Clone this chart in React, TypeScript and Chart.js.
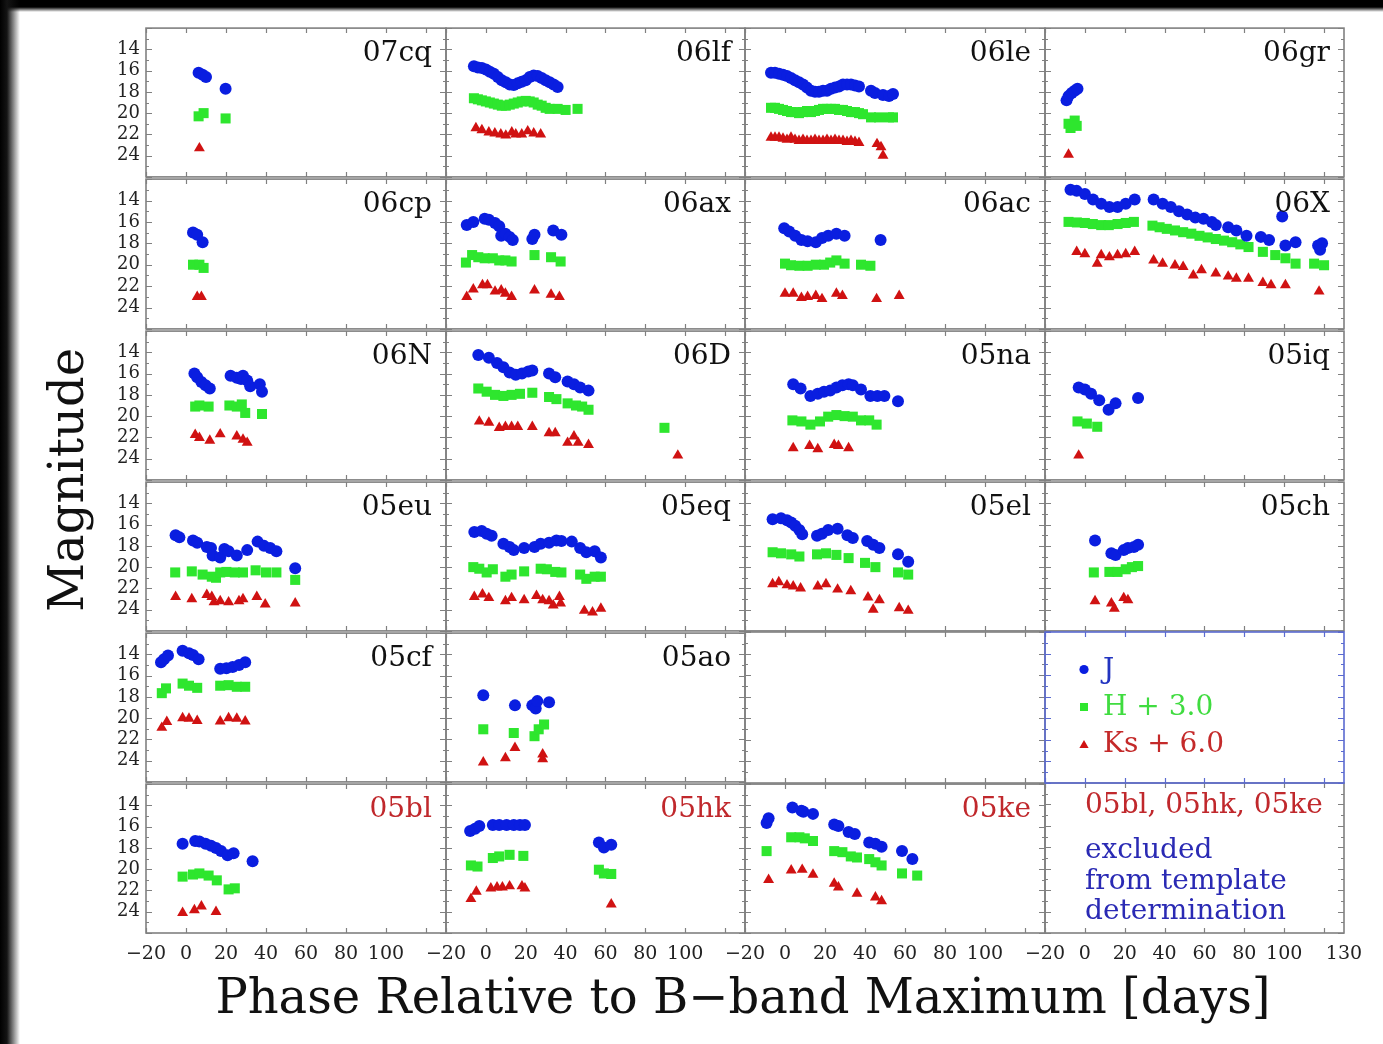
import React, { useEffect, useRef } from 'react';
import { Chart, registerables } from 'chart.js';

Chart.register(...registerables);

type Pt = [number, number];

// ---- data: [phase (days), magnitude] ----
const j07cq: Pt[] = [[6.3,16.2],[8.3,16.4],[10,16.6],[19.8,17.7]];
const h07cq: Pt[] = [[6.3,20.3],[8.8,20.0],[19.8,20.5]];
const k07cq: Pt[] = [[6.7,23.3]];

const j06lf: Pt[] = [[-6,15.6],[-4,15.7],[-2,15.75],[0,15.9],[2,16.1],[4,16.3],[6,16.6],[8,16.9],[10,17.1],[12,17.3],[14,17.35],[16,17.2],[18,17.05],[20,16.9],[22,16.6],[24,16.45],[26,16.5],[28,16.7],[30,16.9],[32,17.1],[34,17.3],[36,17.55]];
const h06lf: Pt[] = [[-6,18.6],[-4,18.7],[-2,18.8],[0,18.9],[2,19.0],[4,19.1],[6,19.2],[8,19.3],[10,19.3],[12,19.2],[14,19.1],[16,19.0],[18,18.9],[20,18.85],[22,18.9],[24,19.0],[26,19.2],[28,19.3],[30,19.5],[32,19.6],[36,19.6],[40,19.7],[46,19.6]];
const k06lf: Pt[] = [[-5,21.4],[-2,21.6],[1.5,21.8],[4.5,21.9],[7.5,22.0],[10,22.1],[13,21.8],[15,22.0],[18,22.0],[21,21.7],[24,21.9],[27.5,22.0]];

const j06le: Pt[] = [[-7,16.2],[-5,16.2],[-3,16.3],[-1,16.4],[1,16.5],[3,16.7],[5,16.9],[7,17.1],[9,17.3],[11,17.6],[13,17.9],[15,18.0],[17,18.0],[19,17.9],[21,17.9],[23,17.7],[25,17.6],[27,17.5],[29,17.3],[31,17.3],[33,17.3],[35,17.4],[37,17.5],[43,17.9],[45,18.1],[49,18.3],[52,18.4],[54,18.2]];
const h06le: Pt[] = [[-7,19.5],[-5,19.5],[-3,19.6],[-1,19.7],[1,19.8],[3,19.9],[5,19.9],[7,20.0],[9,19.9],[11,19.8],[13,19.9],[15,19.8],[17,19.7],[19,19.6],[21,19.6],[23,19.6],[25,19.6],[27,19.7],[29,19.7],[31,19.8],[33,19.9],[35,19.9],[37,20.0],[39,20.1],[43,20.4],[47,20.4],[52,20.4],[54,20.4]];
const k06le: Pt[] = [[-7,22.3],[-5,22.3],[-3,22.3],[-1,22.4],[1,22.5],[3,22.3],[5,22.5],[7,22.6],[9,22.5],[11,22.6],[13,22.6],[15,22.5],[17,22.6],[19,22.6],[21,22.5],[23,22.6],[25,22.5],[27,22.6],[29,22.6],[31,22.7],[33,22.6],[35,22.7],[37,22.8],[46,22.9],[48,23.2],[49,24.0]];

const j06gr: Pt[] = [[-9.2,18.8],[-8.2,18.4],[-6.6,18.1],[-5.1,17.9],[-3.7,17.7]];
const h06gr: Pt[] = [[-8.2,21.0],[-7.2,21.4],[-5.1,20.7],[-4.1,21.2]];
const k06gr: Pt[] = [[-8.2,23.9]];

const j06cp: Pt[] = [[3.5,17.0],[5.6,17.2],[8.3,17.9]];
const h06cp: Pt[] = [[3.5,20.0],[6.7,20.0],[8.8,20.3]];
const k06cp: Pt[] = [[5.6,23.0],[7.7,23.0]];

const j06ax: Pt[] = [[-9.6,16.3],[-6.3,16.0],[-0.6,15.7],[1.5,15.8],[4.6,16.1],[6.7,16.4],[7.7,17.3],[9.8,17.1],[11.9,17.4],[13.5,17.7],[23.3,17.6],[24.4,17.2],[33.8,16.8],[37.9,17.2]];
const h06ax: Pt[] = [[-10,19.8],[-6.9,19.1],[-3.8,19.3],[-0.6,19.4],[3.5,19.4],[6.7,19.6],[9.8,19.6],[12.9,19.7],[24.4,19.1],[32.7,19.3],[37.5,19.7]];
const k06ax: Pt[] = [[-9.6,23.0],[-6.3,22.3],[-1.7,21.9],[0.8,21.9],[4.6,22.5],[7.7,22.4],[9.8,22.7],[12.9,23.0],[24.4,22.4],[32.7,22.8],[36.9,23.0]];

const j06ac: Pt[] = [[-0.4,16.6],[2.1,16.9],[5.1,17.3],[8.2,17.7],[11.3,17.8],[15.4,17.9],[18.5,17.5],[21.6,17.3],[25.7,17.1],[29.8,17.3],[47.8,17.7]];
const h06ac: Pt[] = [[0,19.9],[3,20.05],[7.2,20.1],[11.3,20.1],[15.4,20.0],[19.5,20.0],[22.6,19.8],[25.7,19.6],[29.8,19.9],[38,20.0],[42.7,20.1]];
const k06ac: Pt[] = [[0,22.7],[4.1,22.7],[8.2,23.1],[11.3,23.0],[15.4,22.9],[18.5,23.2],[25.7,22.7],[28.7,22.9],[45.8,23.2],[57.1,22.9]];

const j06X: Pt[] = [[-7.2,13.0],[-4.1,13.1],[0,13.4],[4.1,13.9],[8.2,14.3],[12.3,14.6],[16.4,14.6],[20.5,14.3],[25,13.9],[34.5,13.9],[39,14.3],[43.1,14.6],[47.2,15.0],[51.3,15.3],[55.4,15.6],[59.5,15.7],[63.7,16.0],[65.7,16.3],[71.9,16.5],[76,16.8],[81.1,17.3],[88.3,17.4],[92.4,17.7],[99,15.5],[100.6,18.2],[105.7,17.9],[117,18.2],[119,18.0],[118,18.6]];
const h06X: Pt[] = [[-8.2,16.0],[-4,16.05],[0,16.1],[4,16.2],[8.2,16.3],[12,16.3],[16.4,16.2],[20.5,16.1],[24.6,16.0],[33.9,16.35],[37.5,16.5],[41.1,16.65],[45.2,16.8],[49.3,16.96],[53.4,17.1],[57.5,17.3],[61.6,17.45],[65.7,17.6],[69.8,17.75],[73.9,17.9],[78,18.1],[82.1,18.35],[89.3,18.8],[95.5,19.1],[100.6,19.4],[105.7,19.9],[115,19.9],[120,20.05]];
const k06X: Pt[] = [[-4.1,18.8],[0,19.0],[6.2,19.9],[8.2,19.1],[12.3,19.3],[16.4,19.1],[20.5,19.0],[25,18.8],[34.5,19.6],[39,19.9],[45.2,20.05],[49.3,20.2],[54.4,21.0],[58.5,20.5],[65.7,20.8],[71.9,21.1],[76,21.3],[82.1,21.3],[89.3,21.7],[93.4,21.9],[100.6,21.9],[117.5,22.5]];

const j06N: Pt[] = [[4.2,16.0],[5.6,16.35],[7.7,16.8],[9.8,17.1],[11.9,17.4],[22.3,16.2],[25.4,16.4],[27.5,16.5],[28.5,16.2],[30.6,16.65],[32.1,17.2],[36.9,17.0],[38,17.7]];
const h06N: Pt[] = [[4.6,19.1],[6.7,19.0],[11.3,19.1],[21.7,19.0],[25.4,19.1],[27.9,18.9],[29.6,19.7],[38,19.8]];
const k06N: Pt[] = [[4.6,21.75],[6.7,22.05],[11.9,22.3],[17.1,21.7],[25.4,21.9],[28.5,22.2],[30.6,22.5]];

const j06D: Pt[] = [[-3.8,14.25],[1.5,14.5],[5.6,15.0],[8.8,15.4],[11.9,15.9],[15,16.1],[18.1,16.0],[21.3,15.8],[23.3,15.7],[31.7,16.0],[34.8,16.35],[41,16.75],[44.2,17.0],[47.3,17.3],[51.5,17.6]];
const h06D: Pt[] = [[-3.8,17.4],[0.4,17.7],[4.6,18.0],[8.8,18.1],[12.9,18.0],[17.1,17.9],[23.3,17.8],[31.7,18.2],[35.4,18.4],[41,18.8],[45.2,19.0],[48.3,19.1],[51.5,19.4],[89.6,21.1]];
const k06D: Pt[] = [[-3.3,20.5],[1.5,20.6],[6.7,21.1],[9.8,21.0],[12.9,21.0],[16,21.0],[23.3,21.0],[31.7,21.6],[34.8,21.6],[41,22.5],[44.2,21.9],[46.3,22.5],[51.5,22.7],[96.3,23.7]];

const j05na: Pt[] = [[4.1,17.0],[7.8,17.4],[12.7,18.1],[16.4,17.9],[19.5,17.7],[22.6,17.6],[25.7,17.3],[28.7,17.1],[31.8,17.0],[33.9,17.1],[38,17.5],[42.7,18.1],[46.2,18.1],[49.7,18.1],[56.5,18.6]];
const h05na: Pt[] = [[3.7,20.4],[8.2,20.5],[12.7,20.8],[17.5,20.5],[21.6,20.05],[25.7,19.9],[29.8,20.0],[33.9,20.05],[38,20.4],[42.1,20.4],[45.8,20.8]];
const k05na: Pt[] = [[4.1,23.0],[12.3,22.8],[16.4,23.1],[24.6,22.7],[26.7,22.8],[31.8,23.0]];

const j05iq: Pt[] = [[-3.1,17.3],[0,17.5],[3.1,17.9],[7.2,18.5],[11.9,19.4],[15.4,18.8],[26.7,18.3]];
const h05iq: Pt[] = [[-3.7,20.5],[1,20.7],[6.2,21.0]];
const k05iq: Pt[] = [[-3.1,23.7]];

const j05eu: Pt[] = [[-5.2,17.0],[-3.3,17.2],[3.5,17.5],[5.6,17.7],[10.4,18.1],[12.5,18.2],[13.3,18.9],[17.1,19.1],[19.2,18.3],[21.3,18.5],[25.4,18.9],[30.6,18.4],[35.8,17.6],[39,18.0],[42.1,18.2],[45.2,18.5],[54.6,20.1]];
const h05eu: Pt[] = [[-5.4,20.5],[2.9,20.4],[8.3,20.7],[12.9,20.9],[15,21.0],[17.1,20.5],[20.2,20.45],[24.4,20.5],[28.5,20.5],[34.8,20.3],[40,20.5],[45.2,20.5],[54.6,21.2]];
const k05eu: Pt[] = [[-5.2,22.8],[2.9,23.0],[10.4,22.6],[12.9,22.8],[14,23.3],[17.1,23.2],[21.3,23.3],[26.5,23.2],[28.5,23.0],[35.4,22.8],[39.6,23.5],[54.6,23.4]];

const j05eq: Pt[] = [[-5.8,16.7],[-2.1,16.6],[0.4,16.85],[2.9,17.05],[8.8,17.8],[11.9,18.1],[14,18.4],[19.2,18.2],[24.4,18.1],[27.5,17.8],[31.7,17.7],[35.4,17.5],[37.9,17.55],[43.1,17.6],[47.3,18.2],[50.4,18.6],[54.6,18.5],[57.7,19.1]];
const h05eq: Pt[] = [[-6.3,20.0],[-3.3,20.15],[0.4,20.5],[3.5,20.2],[9.8,20.9],[12.9,20.7],[19.2,20.4],[27.5,20.15],[30.6,20.2],[34.8,20.45],[37.9,20.5],[47.3,20.7],[50.4,21.1],[54.6,20.9],[57.7,20.9]];
const k05eq: Pt[] = [[-5.8,22.8],[-1.7,22.55],[1.5,22.9],[9.8,23.2],[12.9,22.9],[19.2,23.1],[25.4,22.7],[28.5,23.1],[31.7,23.2],[33.8,23.6],[36.9,22.8],[37.5,23.4],[49.4,24.1],[53.5,24.25],[57.7,23.9]];

const j05el: Pt[] = [[-6.2,15.5],[-2,15.4],[1,15.6],[3.1,15.8],[5.1,16.1],[7.2,16.5],[8.6,16.9],[16,17.05],[18.5,16.85],[21.6,16.5],[26.3,16.4],[31.2,17.0],[33.9,17.25],[41.1,17.55],[44.1,17.9],[47.2,18.2],[56.5,18.8],[61.6,19.5]];
const h05el: Pt[] = [[-6.2,18.6],[-2,18.7],[3.1,18.8],[7.2,19.0],[16,18.8],[20.5,18.7],[25.7,18.85],[31.8,19.15],[40,19.6],[45.2,20.0],[56.5,20.5],[61.6,20.7]];
const k05el: Pt[] = [[-6.2,21.6],[-3.1,21.4],[1,21.7],[4.1,21.8],[7.8,22.0],[16.4,21.8],[20.5,21.6],[26.3,22.1],[32.9,22.25],[41.5,22.85],[44.1,24.0],[47.2,23.1],[57.1,23.85],[61.6,24.1]];

const j05ch: Pt[] = [[5.1,17.5],[13.3,18.7],[15.4,18.85],[19.5,18.4],[21.6,18.2],[24.6,18.1],[26.7,17.9]];
const h05ch: Pt[] = [[4.5,20.5],[12.3,20.45],[16.4,20.45],[20.5,20.2],[23.6,20.0],[26.7,19.9]];
const k05ch: Pt[] = [[5.1,23.2],[13.3,23.4],[14.8,23.9],[19.5,22.9],[21.6,23.1]];

const j05cf: Pt[] = [[-12.5,14.75],[-11,14.45],[-9,14.1],[-1.7,13.65],[1.5,13.9],[3.5,14.05],[6.3,14.45],[17.1,15.35],[20.2,15.3],[23.3,15.2],[26.5,15.0],[29.6,14.75]];
const h05cf: Pt[] = [[-12.1,17.65],[-10,17.2],[-1.7,16.75],[1.5,16.95],[5.6,17.15],[17.1,16.95],[21.3,16.9],[25.4,17.05],[29.6,17.05]];
const k05cf: Pt[] = [[-12.1,20.9],[-9.6,20.35],[-1.7,20.0],[1.5,20.05],[5.6,20.25],[17.1,20.3],[21.3,20.0],[25.4,20.05],[29.6,20.3]];

const j05ao: Pt[] = [[-1.3,17.85],[14.6,18.8],[23.3,18.8],[25,19.1],[25.8,18.4],[31.7,18.5]];
const h05ao: Pt[] = [[-1.3,21.05],[14,21.4],[24.4,21.7],[26.5,21.05],[29.2,20.6]];
const k05ao: Pt[] = [[-1.3,24.15],[9.8,23.75],[14.6,22.8],[28.5,23.4],[28.5,23.85]];

const j05bl: Pt[] = [[-1.7,17.6],[4.6,17.35],[6.7,17.4],[9.8,17.6],[12.5,17.8],[15,18.0],[17.5,18.3],[20.8,18.7],[23.8,18.5],[33.3,19.25]];
const h05bl: Pt[] = [[-1.7,20.7],[3.5,20.5],[6.7,20.4],[11.3,20.6],[15.4,21.05],[21.3,21.9],[24.4,21.8]];
const k05bl: Pt[] = [[-1.7,24.1],[4.2,23.85],[7.7,23.5],[15,24.0]];

const j05hk: Pt[] = [[-7.9,16.4],[-5.4,16.2],[-3.3,15.95],[3.5,15.85],[6.7,15.85],[10.4,15.85],[14,15.85],[17.1,15.85],[19.6,15.85],[56.7,17.5],[59.2,17.95],[62.9,17.7]];
const h05hk: Pt[] = [[-7.5,19.65],[-4.2,19.75],[3.5,18.95],[6.7,18.8],[11.9,18.65],[18.8,18.75],[56.7,20.05],[59.2,20.4],[62.9,20.45]];
const k05hk: Pt[] = [[-7.5,22.8],[-4.8,22.1],[2.5,21.8],[5.6,21.7],[8.3,21.7],[11.9,21.6],[18.1,21.6],[19.6,21.8],[62.9,23.3]];

const j05ke: Pt[] = [[-9.2,15.65],[-8.2,15.2],[3.7,14.2],[8.2,14.5],[9.2,14.6],[14,14.8],[24.6,15.8],[26.7,15.95],[31.8,16.5],[34.9,16.7],[42.1,17.5],[45.2,17.6],[48.3,17.9],[58.5,18.3],[63.7,19.05]];
const h05ke: Pt[] = [[-9.2,18.3],[3.1,17.0],[7.2,17.0],[9.9,17.1],[14,17.35],[24.6,18.3],[28.7,18.4],[32.9,18.8],[36,18.9],[42.1,19.05],[45.2,19.35],[48.3,19.65],[58.5,20.4],[66.1,20.6]];
const k05ke: Pt[] = [[-8.2,21.0],[3.1,20.1],[8.6,20.05],[14,20.5],[24.6,21.35],[26.7,21.7],[36,22.3],[45.2,22.65],[48.3,23.0]];

// panel order: 6 rows x 4 columns ('' = no data)
const panelNames = ['07cq','06lf','06le','06gr','06cp','06ax','06ac','06X','06N','06D','05na','05iq','05eu','05eq','05el','05ch','05cf','05ao','','','05bl','05hk','05ke',''];
const excludedNames = ['05bl','05hk','05ke'];
const panelData: Record<string, Pt[][]> = {
  '07cq': [j07cq, h07cq, k07cq], '06lf': [j06lf, h06lf, k06lf], '06le': [j06le, h06le, k06le], '06gr': [j06gr, h06gr, k06gr],
  '06cp': [j06cp, h06cp, k06cp], '06ax': [j06ax, h06ax, k06ax], '06ac': [j06ac, h06ac, k06ac], '06X': [j06X, h06X, k06X],
  '06N': [j06N, h06N, k06N], '06D': [j06D, h06D, k06D], '05na': [j05na, h05na, k05na], '05iq': [j05iq, h05iq, k05iq],
  '05eu': [j05eu, h05eu, k05eu], '05eq': [j05eq, h05eq, k05eq], '05el': [j05el, h05el, k05el], '05ch': [j05ch, h05ch, k05ch],
  '05cf': [j05cf, h05cf, k05cf], '05ao': [j05ao, h05ao, k05ao],
  '05bl': [j05bl, h05bl, k05bl], '05hk': [j05hk, h05hk, k05hk], '05ke': [j05ke, h05ke, k05ke],
};
const bandLabels = ['J', 'H + 3.0', 'Ks + 6.0'];
const yTickValues = [14, 16, 18, 20, 22, 24];
const xTickValues = [-20, 0, 20, 40, 60, 80, 100];
const xTickValuesLast = [-20, 0, 20, 40, 60, 80, 100, 130];
const noteTitle = '05bl, 05hk, 05ke';
const noteLines = ['excluded', 'from template', 'determination'];
const LEGEND_INDEX = 19;

// ---- style ----
const FONT = "'DejaVu Serif'";
const bandColors = ['#0a1ee0', '#2ee62e', '#d01212'];
const bandStyles = ['circle', 'rect', 'triangle'];
const bandRadius = [6, 7.1, 6.3];
const COL_X = [146, 446, 745, 1045, 1344];
const ROW_Y = [27, 178, 330, 481, 632, 783, 933];
const YW = 60;
const XH = 40;
const PADH = 25;
const PADV = 6;

const fmt = (v: number) => (v < 0 ? '\u2212' + Math.abs(v) : String(v));

const framePlugin = {
  id: 'frame',
  afterDraw(chart: any, _args: any, opts: any) {
    const { ctx, chartArea: a, scales } = chart;
    const xs = scales.x;
    const ys = scales.y;
    ctx.save();
    ctx.strokeStyle = opts.color;
    ctx.lineWidth = 1.2;
    ctx.beginPath();
    for (let v = 12; v <= 26; v++) {
      const py = Math.round(ys.getPixelForValue(v)) + 0.5;
      const L = v % 2 === 0 ? 6 : 3;
      ctx.moveTo(a.left, py); ctx.lineTo(a.left + L, py);
      ctx.moveTo(a.right, py); ctx.lineTo(a.right - L, py);
    }
    for (let v = -20; v <= 130; v += 20) {
      const px = Math.round(xs.getPixelForValue(v)) + 0.5;
      ctx.moveTo(px, a.top); ctx.lineTo(px, a.top + 5);
      ctx.moveTo(px, a.bottom); ctx.lineTo(px, a.bottom - 5);
    }
    ctx.stroke();
    ctx.lineWidth = opts.width;
    ctx.strokeRect(a.left, a.top, a.right - a.left, a.bottom - a.top);
    ctx.restore();
  },
};

const zeroPad = (s: any) => {
  s.paddingLeft = 0;
  s.paddingRight = 0;
  s.paddingTop = 0;
  s.paddingBottom = 0;
};

function Panel({ idx }: { idx: number }) {
  const ref = useRef<HTMLCanvasElement>(null);
  const r = Math.floor(idx / 4);
  const c = idx % 4;
  const showY = c === 0;
  const showX = r === 5;
  const extraL = PADH + (showY ? YW : 0);
  const extraB = PADV + (showX ? XH : 0);
  const left = COL_X[c] - extraL;
  const top = ROW_Y[r] - PADV;
  const w = COL_X[c + 1] - COL_X[c] + extraL + PADH;
  const h = ROW_Y[r + 1] - ROW_Y[r] + PADV + extraB;
  const name = panelNames[idx];
  const isLegend = idx === LEGEND_INDEX;

  useEffect(() => {
    const sets = name ? panelData[name] : [[], [], []];
    const chart = new Chart(ref.current as HTMLCanvasElement, {
      type: 'scatter',
      data: {
        datasets: sets.map((pts, b) => ({
          label: bandLabels[b],
          data: pts.map(([x, y]) => ({ x, y })),
          pointStyle: bandStyles[b] as any,
          pointRadius: bandRadius[b],
          backgroundColor: bandColors[b],
          borderColor: bandColors[b],
          borderWidth: 0,
        })),
      },
      options: {
        animation: false,
        responsive: false,
        events: [],
        layout: { padding: { left: PADH, right: PADH, top: PADV, bottom: PADV } },
        plugins: {
          legend: { display: false },
          tooltip: { enabled: false },
          frame: { color: isLegend ? '#5a6ad0' : '#808080', width: 1.6 },
        } as any,
        scales: {
          x: {
            type: 'linear',
            min: -20,
            max: 130,
            display: showX,
            grid: { display: false, drawTicks: false },
            border: { display: false },
            ticks: {
              autoSkip: false,
              maxRotation: 0,
              padding: 10,
              color: '#222',
              font: { family: FONT, size: 19 },
              callback: (v: any) => fmt(Number(v)),
            },
            afterBuildTicks: (s: any) => {
              s.ticks = (c === 3 ? xTickValuesLast : xTickValues).map((v) => ({ value: v }));
            },
            afterFit: (s: any) => {
              s.height = showX ? XH : 0;
              zeroPad(s);
            },
          },
          y: {
            type: 'linear',
            min: 12,
            max: 26,
            reverse: true,
            display: showY,
            grid: { display: false, drawTicks: false },
            border: { display: false },
            ticks: {
              autoSkip: false,
              padding: 6,
              color: '#222',
              font: { family: FONT, size: 18 },
              callback: (v: any) => fmt(Number(v)),
            },
            afterBuildTicks: (s: any) => {
              s.ticks = yTickValues.map((v) => ({ value: v }));
            },
            afterFit: (s: any) => {
              s.width = showY ? YW : 0;
              zeroPad(s);
            },
          },
        },
      } as any,
      plugins: [framePlugin],
    });
    return () => chart.destroy();
  }, []);

  return (
    <canvas
      ref={ref}
      width={w}
      height={h}
      style={{ position: 'absolute', left, top, width: w, height: h, zIndex: isLegend ? 2 : 1 }}
    />
  );
}

export default function App() {
  const RED_TXT = '#c0282c';
  const BLUE_TXT = '#2a2ab4';
  return (
    <div style={{ position: 'absolute', left: 0, top: 0, width: 1383, height: 1044, background: '#fff', overflow: 'hidden' }}>
      {panelNames.map((_, i) => (
        <Panel key={i} idx={i} />
      ))}
      <svg
        width={1383}
        height={1044}
        style={{ position: 'absolute', left: 0, top: 0, zIndex: 3, pointerEvents: 'none' }}
        fontFamily={FONT}
      >
        <text transform="translate(83,480) rotate(-90)" textAnchor="middle" fontSize={48} fill="#111">Magnitude</text>
        <text x={743} y={1013} textAnchor="middle" fontSize={48} fill="#111">Phase Relative to B{'\u2212'}band Maximum [days]</text>
        {panelNames.map((n, i) => {
          if (!n) return null;
          const r = Math.floor(i / 4);
          const c = i % 4;
          return (
            <text key={i} x={COL_X[c + 1] - 14} y={ROW_Y[r] + 33.5} textAnchor="end" fontSize={28}
              fill={excludedNames.includes(n) ? RED_TXT : '#111'}>{n}</text>
          );
        })}
        {/* legend */}
        <circle cx={1084} cy={669.5} r={4.6} fill={bandColors[0]} />
        <rect x={1080} y={703} width={8} height={8} fill={bandColors[1]} />
        <polygon points="1084,740 1088.6,748 1079.4,748" fill={bandColors[2]} />
        <text x={1103} y={678} fontSize={28} fill="#2234c0">{bandLabels[0]}</text>
        <text x={1103} y={715} fontSize={28} fill="#40dc40">{bandLabels[1]}</text>
        <text x={1103} y={752} fontSize={28} fill="#c42a2a">{bandLabels[2]}</text>
        {/* note */}
        <text x={1085} y={813} fontSize={28} fill={RED_TXT}>{noteTitle}</text>
        {noteLines.map((t, i) => (
          <text key={t} x={1085} y={858 + i * 30.5} fontSize={28} fill={BLUE_TXT}>{t}</text>
        ))}
      </svg>
      <div style={{ position: 'absolute', left: 0, top: 0, width: 1383, height: 12, zIndex: 4, background: 'linear-gradient(#000 0px, #000 7px, rgba(0,0,0,0) 12px)' }} />
      <div style={{ position: 'absolute', left: 0, top: 0, width: 20, height: 1044, zIndex: 4, background: 'linear-gradient(to right, #000 0px, #141414 7px, rgba(0,0,0,0) 20px)' }} />
    </div>
  );
}
